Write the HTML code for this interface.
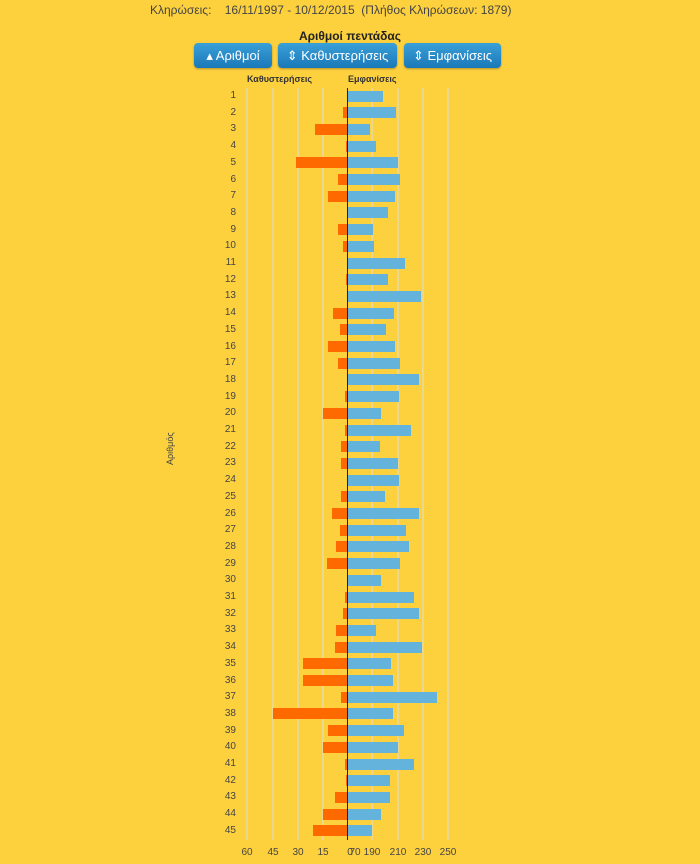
<!DOCTYPE html><html><head><meta charset="utf-8"><style>
body{margin:0;width:700px;height:864px;background:#fdd13e;font-family:"Liberation Sans",sans-serif;position:relative;overflow:hidden;color:#333}
.a{position:absolute}
.btn{position:absolute;top:43px;height:25px;border-radius:4px;background:linear-gradient(#3aa0d8,#1a78b8);color:#fff;font-size:13px;line-height:25px;text-align:center;box-shadow:0 1px 2px rgba(0,0,0,.3)}
.g{position:absolute;top:88px;height:752px;width:2px;background:#ecd78e}
.lb{position:absolute;left:200px;width:36px;text-align:right;font-size:10px;color:#444}
.o{position:absolute;height:11px;background:#ff6a00}
.b{position:absolute;height:11px;background:#63b3dd;left:348px}
.t{position:absolute;top:847px;font-size:10px;color:#444;width:30px;text-align:center}
</style></head><body>
<div class="a" style="left:150px;top:3px;font-size:12px;color:#444">Κληρώσεις:&nbsp;&nbsp;&nbsp;&nbsp;16/11/1997 - 10/12/2015&nbsp;&nbsp;(Πλήθος Κληρώσεων: 1879)</div>
<div class="a" style="left:0;width:700px;top:29px;text-align:center;font-size:12px;font-weight:bold;color:#222">Αριθμοί πεντάδας</div>
<div class="btn" style="left:194px;width:78px">▴ Αριθμοί</div>
<div class="btn" style="left:278px;width:119px">⇕ Καθυστερήσεις</div>
<div class="btn" style="left:404px;width:97px">⇕ Εμφανίσεις</div>
<div class="a" style="left:247px;top:74px;font-size:9px;font-weight:bold;color:#333">Καθυστερήσεις</div>
<div class="a" style="left:348px;top:74px;font-size:9px;font-weight:bold;color:#333">Εμφανίσεις</div>
<div class="a" style="left:165px;top:465px;font-size:9px;transform:rotate(-90deg);transform-origin:left top;color:#444">Αριθμός</div>
<div class="g" style="left:246px"></div><div class="g" style="left:272px"></div><div class="g" style="left:297px"></div><div class="g" style="left:322px"></div>
<div class="g" style="left:371px"></div><div class="g" style="left:397px"></div><div class="g" style="left:422px"></div><div class="g" style="left:447px"></div>
<div id="c"></div>
<div class="a" style="left:347px;top:88px;width:1px;height:752px;background:#222"></div>
<div class="t" style="left:232px">60</div><div class="t" style="left:258px">45</div><div class="t" style="left:283px">30</div><div class="t" style="left:308px">15</div><div class="t" style="left:335px">0</div><div class="t" style="left:340px">70</div><div class="t" style="left:357px">190</div><div class="t" style="left:383px">210</div><div class="t" style="left:408px">230</div><div class="t" style="left:433px">250</div>
<script>
var R=[383,396,370,376,398,400,395,388,373,374,405,388,421,394,386,395,400,419,399,381,411,380,398,399,385,419,406,409,400,381,414,419,376,422,391,393,437,393,404,398,414,390,390,381,372];
var L=[347,343,315,346,296,338,328,347,338,343,347,346,347,333,340,328,338,347,345,323,345,341,341,347,341,332,340,336,327,347,345,343,336,335,303,303,341,273,328,323,345,346,335,323,313];
var h='';for(var i=0;i<45;i++){var y=96+i*16.7;
h+='<div class="lb" style="top:'+(y-6)+'px">'+(i+1)+'</div>';
if(L[i]<347)h+='<div class="o" style="top:'+(y-5.5)+'px;left:'+L[i]+'px;width:'+(347-L[i])+'px"></div>';
h+='<div class="b" style="top:'+(y-5.5)+'px;width:'+(R[i]-348)+'px"></div>';}
document.getElementById('c').innerHTML=h;
</script>
</body></html>
